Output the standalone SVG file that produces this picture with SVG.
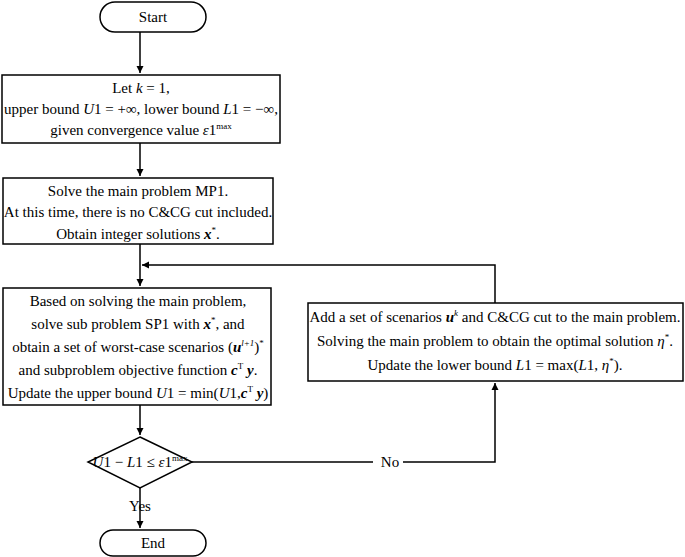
<svg xmlns="http://www.w3.org/2000/svg" width="685" height="557" viewBox="0 0 685 557">
<style>
.b{fill:#fff;stroke:#000;stroke-width:1.5}
.l{fill:none;stroke:#000;stroke-width:1.5}
text{font-family:"Liberation Serif",serif;font-size:15px;text-anchor:middle;fill:#000}
.i{font-style:italic}.bi{font-style:italic;font-weight:bold}
.s{font-size:9px}
</style>
<defs><marker id="a" viewBox="0 0 10 10" refX="10" refY="5" markerWidth="7" markerHeight="9" markerUnits="userSpaceOnUse" orient="auto"><path d="M0,0L10,5L0,10z"/></marker></defs>
<g id="connectors">
<path class="l" d="M140,32V73" marker-end="url(#a)"/>
<path class="l" d="M140,143V176" marker-end="url(#a)"/>
<path class="l" d="M140,244V286" marker-end="url(#a)"/>
<path class="l" d="M140,405V435" marker-end="url(#a)"/>
<path class="l" d="M140,488V528" marker-end="url(#a)"/>
<path class="l" d="M192,462H495V383" marker-end="url(#a)"/>
<path class="l" d="M495,303V265H142" marker-end="url(#a)"/>
<rect x="373" y="454" width="30" height="16" fill="#fff"/>
<text x="390" y="467">No</text>
<text x="140" y="511" style="fill:#000">Yes</text>
</g>
<g id="start"><rect class="b" x="100" y="2" width="106" height="30" rx="15"/><text x="153" y="22">Start</text></g>
<g id="init"><rect class="b" x="2" y="75" width="278" height="68"/>
<text x="141" y="93">Let <tspan class="i">k</tspan> = 1,</text>
<text x="141" y="114">upper bound <tspan class="i">U</tspan>1 = +∞, lower bound <tspan class="i">L</tspan>1 = −∞,</text>
<text x="141" y="135">given convergence value  <tspan class="i">ε</tspan>1<tspan class="s" dy="-6">max</tspan></text></g>
<g id="mp"><rect class="b" x="3" y="178" width="270" height="66"/>
<text x="138" y="196">Solve the main problem MP1.</text>
<text x="138" y="217">At this time, there is no C&amp;CG cut included.</text>
<text x="138" y="239">Obtain integer solutions <tspan class="bi">x</tspan><tspan class="s" dy="-6">*</tspan><tspan dy="6">.</tspan></text></g>
<g id="sp"><rect class="b" x="3" y="288" width="268" height="117"/>
<text x="138" y="306">Based on solving the main problem,</text>
<text x="138" y="329">solve sub problem SP1 with <tspan class="bi">x</tspan><tspan class="s" dy="-6">*</tspan><tspan dy="6">, and</tspan></text>
<text x="138" y="352">obtain a set of worst-case scenarios (<tspan class="bi">u</tspan><tspan class="s i" dy="-6">l+1</tspan><tspan dy="6">)</tspan><tspan class="s" dy="-6">*</tspan></text>
<text x="138" y="375">and subproblem objective function  <tspan class="bi">c</tspan><tspan class="s" dy="-6">T</tspan><tspan class="bi" dy="6"> y</tspan>.</text>
<text x="138" y="398">Update the upper bound <tspan class="i">U</tspan>1 = min(<tspan class="i">U</tspan>1,<tspan class="bi">c</tspan><tspan class="s" dy="-6">T</tspan><tspan class="bi" dy="6"> y</tspan>)</text></g>
<g id="check"><path class="b" d="M140,437L192,462L140,488L88,462z"/>
<text x="140" y="467"><tspan class="i">U</tspan>1 − <tspan class="i">L</tspan>1 ≤ <tspan class="i">ε</tspan>1<tspan class="s" dy="-6">max</tspan></text></g>
<g id="cut"><rect class="b" x="308" y="303" width="375" height="78"/>
<text x="495" y="322">Add a set of scenarios <tspan class="bi">u</tspan><tspan class="s i" dy="-6">k</tspan><tspan dy="6"> and C&amp;CG cut to the main problem.</tspan></text>
<text x="495" y="346">Solving the main problem to obtain the optimal solution  <tspan class="i">η</tspan><tspan class="s" dy="-6">*</tspan><tspan dy="6">.</tspan></text>
<text x="495" y="370">Update the lower bound <tspan class="i">L</tspan>1 = max(<tspan class="i">L</tspan>1, <tspan class="i">η</tspan><tspan class="s" dy="-6">*</tspan><tspan dy="6">).</tspan></text></g>
<g id="end"><rect class="b" x="100" y="530" width="106" height="26" rx="13"/><text x="153" y="548">End</text></g>
</svg>
